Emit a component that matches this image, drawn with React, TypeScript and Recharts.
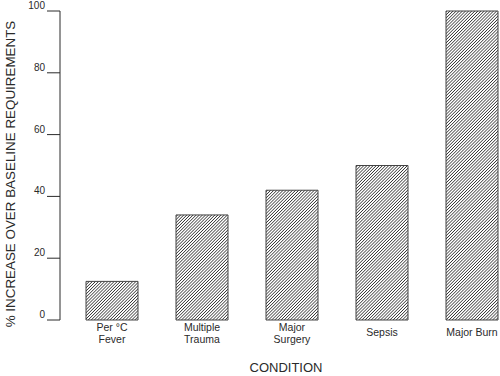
import * as React from "react";
import { BarChart, Bar, XAxis, YAxis } from "recharts";

// Conditions along the x axis ("\n" splits a label over two lines)
const conditions = [
  "Per °C\nFever",
  "Multiple\nTrauma",
  "Major\nSurgery",
  "Sepsis",
  "Major Burn",
];

// % increase over baseline requirements, per condition
const increases = [12.5, 34, 42, 50, 100];

const yTicks = [0, 20, 40, 60, 80, 100];

const FONT = "'Liberation Sans', Arial, Helvetica, sans-serif";
const INK = "#2a2a2a";

const data = conditions.map((name, i) => ({ name, value: increases[i] }));

// Value labels sit a little above their tick marks, right aligned
const YTick = (props: any) => {
  const { y, payload } = props;
  return (
    <text
      x={45}
      y={y - 2}
      textAnchor="end"
      fontSize={10}
      fontFamily={FONT}
      fill={INK}
    >
      {payload.value}
    </text>
  );
};

// Category labels, one or two lines centred under each bar
const XTick = (props: any) => {
  const { x, payload } = props;
  const lines = String(payload.value).split("\n");
  const firstY = lines.length > 1 ? 331 : 336;
  return (
    <text textAnchor="middle" fontSize={10.5} fontFamily={FONT} fill={INK}>
      {lines.map((line, i) => (
        <tspan key={i} x={x} y={firstY + i * 12}>
          {line}
        </tspan>
      ))}
    </text>
  );
};

const YTitle = () => (
  <text
    x={15}
    y={174}
    transform="rotate(-90, 15, 174)"
    textAnchor="middle"
    fontSize={13.4}
    fontFamily={FONT}
    fill={INK}
  >
    % INCREASE OVER BASELINE REQUIREMENTS
  </text>
);

const XTitle = () => (
  <text
    x={286}
    y={372}
    textAnchor="middle"
    fontSize={13}
    fontFamily={FONT}
    fill={INK}
  >
    CONDITION
  </text>
);

export default function App() {
  return (
    <div
      style={{
        position: "absolute",
        left: 0,
        top: 0,
        width: 500,
        height: 376,
        overflow: "hidden",
        background: "#fff",
      }}
    >
      <BarChart
        width={520}
        height={376}
        data={data}
        margin={{ top: 11, right: 3, bottom: 0, left: 0 }}
        barCategoryGap={19}
      >
        <defs>
          <pattern
            id="hatch"
            patternUnits="userSpaceOnUse"
            width={2.2}
            height={2.2}
            patternTransform="rotate(45)"
          >
            <rect width={2.2} height={2.2} fill="#fff" />
            <line x1={0} y1={0} x2={0} y2={2.2} stroke="#1a1a1a" strokeWidth={1.3} />
          </pattern>
        </defs>
        <XAxis
          dataKey="name"
          height={56}
          axisLine={false}
          tickLine={false}
          padding={{ left: 7, right: 0 }}
          tick={<XTick />}
          interval={0}
          label={<XTitle />}
        />
        <YAxis
          width={60}
          domain={[0, 100]}
          ticks={yTicks}
          interval={0}
          tickSize={13}
          axisLine={{ stroke: INK, strokeWidth: 1 }}
          tickLine={{ stroke: INK, strokeWidth: 1 }}
          tick={<YTick />}
          label={<YTitle />}
        />
        <Bar
          dataKey="value"
          fill="url(#hatch)"
          stroke="#444"
          strokeWidth={1}
          isAnimationActive={false}
        />
      </BarChart>
    </div>
  );
}
